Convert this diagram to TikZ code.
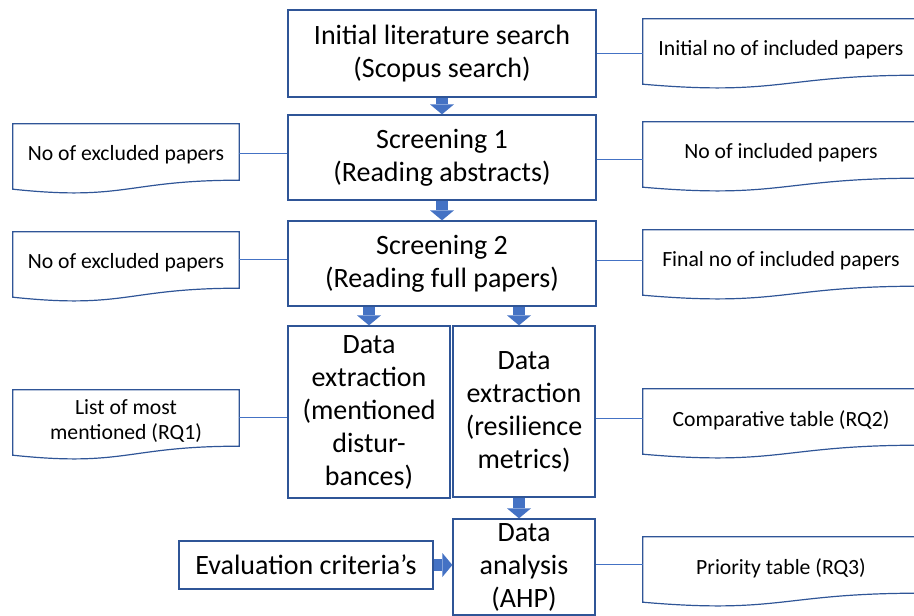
\documentclass[tikz,border=0pt]{standalone}
\usepackage{fontspec}
\setmainfont{Carlito}
\usetikzlibrary{arrows.meta, calc}
\definecolor{boxblue}{HTML}{2F5597}
\definecolor{arrowblue}{HTML}{4472C4}

\tikzset{
  mainbox/.style={draw=boxblue, line width=1.3pt, fill=white, align=center, inner sep=0pt,
    font=\fontsize{28}{33}\selectfont},
  paperdoc/.style={inner sep=0pt, align=center, minimum height=62pt, font=\fontsize{21.7}{25.5}\selectfont},
  docline/.style={draw=boxblue, line width=1.2pt},
  flow/.style={draw=arrowblue, line width=12pt, -{Triangle[width=24pt, length=10pt, line width=0pt]}},
  link/.style={draw=arrowblue, line width=0.9pt},
}

% paper sheet outline with a wavy lower edge
\newcommand{\paperwave}[1]{%
  \draw[docline] ($(#1.south west)+(0,3)$) -- (#1.north west) -- (#1.north east) -- ($(#1.south east)+(0,-6)$)
    .. controls ($(#1.south)+(0,-6)$) and ($(#1.south)+(0,15)$) .. ($(#1.south west)+(0,3)$) -- cycle;}

\begin{document}
\begin{tikzpicture}[x=1pt, y=-1pt]
  \clip (0,0) rectangle (914,616);

  % review steps
  \node[mainbox, minimum width=308pt, minimum height=87pt] (init) at (442,53.5) {Initial literature search\\(Scopus search)};
  \node[mainbox, minimum width=308pt, minimum height=85pt] (scr1) at (442,157.5) {Screening 1\\(Reading abstracts)};
  \node[mainbox, minimum width=308pt, minimum height=85pt] (scr2) at (442,263.5) {Screening 2\\(Reading full papers)};
  \node[mainbox, minimum width=162pt, minimum height=172pt] (ext1) at (369,412) {Data\\extraction\\(mentioned\\distur-\\bances)};
  \node[mainbox, minimum width=142pt, minimum height=171pt] (ext2) at (524,411.5) {Data\\extraction\\(resilience\\metrics)};
  \node[mainbox, minimum width=142pt, minimum height=96pt] (ahp) at (524,567) {Data\\analysis\\(AHP)};
  \node[mainbox, minimum width=254pt, minimum height=48pt] (crit) at (306,565) {Evaluation criteria’s};

  % outcome sheets
  \node[paperdoc, minimum width=276pt] (inc0) at (781,50) {Initial no of included papers};
  \node[paperdoc, minimum width=226pt] (exc1) at (126,155) {No of excluded papers};
  \node[paperdoc, minimum width=276pt] (inc1) at (781,153) {No of included papers};
  \node[paperdoc, minimum width=226pt] (exc2) at (126,263) {No of excluded papers};
  \node[paperdoc, minimum width=276pt] (inc2) at (781,261) {Final no of included papers};
  \node[paperdoc, minimum width=226pt] (most) at (126,421) {List of most\\mentioned (RQ1)};
  \node[paperdoc, minimum width=276pt] (comp) at (781,420) {Comparative table (RQ2)};
  \node[paperdoc, minimum width=276pt] (prio) at (781,568) {Priority table (RQ3)};
  \foreach \d in {inc0,exc1,inc1,exc2,inc2,most,comp,prio} {\paperwave{\d}}

  % thin links
  \draw[link] (init.east) -- (init.east -| inc0.west);
  \draw[link] (exc1.east |- 0,153) -- (scr1.west |- 0,153);
  \draw[link] (scr1.east |- 0,159) -- (inc1.west |- 0,159);
  \draw[link] (exc2.east |- 0,259) -- (scr2.west |- 0,259);
  \draw[link] (scr2.east |- 0,260) -- (inc2.west |- 0,260);
  \draw[link] (most.east |- 0,417) -- (ext1.west |- 0,417);
  \draw[link] (ext2.east |- 0,418) -- (comp.west |- 0,418);
  \draw[link] (ahp.east |- 0,564) -- (prio.west |- 0,564);

  % block arrows
  \draw[flow] (init.south) -- (scr1.north);
  \draw[flow] (scr1.south) -- (scr2.north);
  \draw[flow] (ext1.north |- scr2.south) -- (ext1.north);
  \draw[flow] ([xshift=-5pt]ext2.north |- scr2.south) -- ([xshift=-5pt]ext2.north);
  \draw[flow] ([xshift=-5pt]ext2.south) -- ([xshift=-5pt]ahp.north);
  \draw[flow] (crit.east) -- (crit.east -| ahp.west);
\end{tikzpicture}
\end{document}
